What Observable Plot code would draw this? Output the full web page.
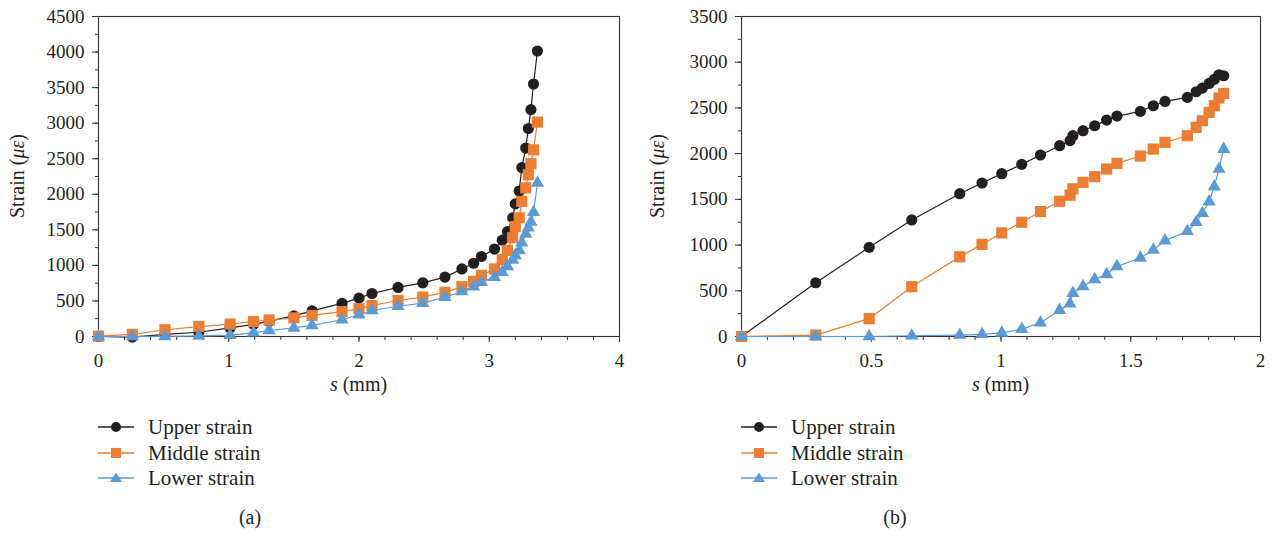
<!DOCTYPE html>
<html>
<head>
<meta charset="utf-8">
<script src="https://cdn.jsdelivr.net/npm/d3@7"></script>
<script src="https://cdn.jsdelivr.net/npm/@observablehq/plot@0.6"></script>
<style>
  body { margin: 0; background: #fff; }
  #root { position: relative; width: 1271px; height: 535px; font-family: "Liberation Serif", serif; color: #231f20; }
  .panel { position: absolute; top: 0; }
  .legend { position: absolute; font-size: 21px; }
  .legend .row { position: absolute; left: 0; white-space: nowrap; height: 26px; }
  .legend svg { position: absolute; left: 0; top: 0; }
  .legend span { position: absolute; left: 50px; top: 0; line-height: 26px; }
  .cap { position: absolute; font-size: 20px; transform: translateX(-50%); }
</style>
</head>
<body>
<div id="root"></div>
<script>
// ---------- Data ----------
const seriesNames = ["Upper strain", "Middle strain", "Lower strain"];
const seriesColors = ["#231f20", "#ED7D31", "#5B9BD5"];
const seriesSymbols = ["circle", "square", "triangle"];

// Panel (a)
const sA = [0, 0.26, 0.51, 0.77, 1.01, 1.19, 1.31, 1.5, 1.64, 1.87, 2.0, 2.1, 2.3, 2.49, 2.66, 2.79, 2.88, 2.94, 3.04, 3.1, 3.14, 3.18, 3.2, 3.23, 3.25, 3.28, 3.3, 3.32, 3.34, 3.37];
const upperA = [0, -8, 30, 60, 120, 170, 215, 290, 360, 465, 540, 605, 690, 755, 835, 950, 1030, 1125, 1230, 1355, 1475, 1670, 1865, 2045, 2375, 2650, 2925, 3190, 3550, 4015];
const middleA = [5, 30, 95, 140, 175, 210, 232, 262, 296, 350, 390, 436, 506, 555, 620, 700, 775, 860, 950, 1080, 1210, 1390, 1545, 1670, 1900, 2090, 2275, 2430, 2625, 3015];
const lowerA = [0, 0, 2, 9, 19, 52, 84, 122, 157, 236, 306, 366, 425, 470, 553, 632, 702, 765, 835, 905, 985, 1077, 1140, 1210, 1318, 1442, 1530, 1612, 1747, 2158];
const xTicksA = [0, 1, 2, 3, 4];
const yTicksA = [0, 500, 1000, 1500, 2000, 2500, 3000, 3500, 4000, 4500];

// Panel (b)
const sB = [0, 0.286, 0.492, 0.656, 0.841, 0.927, 1.003, 1.08, 1.152, 1.226, 1.266, 1.277, 1.316, 1.361, 1.407, 1.447, 1.537, 1.587, 1.632, 1.718, 1.752, 1.776, 1.802, 1.822, 1.84, 1.858];
const upperB = [0, 588, 975, 1275, 1562, 1678, 1781, 1883, 1985, 2087, 2142, 2196, 2251, 2305, 2367, 2411, 2462, 2524, 2571, 2615, 2677, 2717, 2768, 2812, 2863, 2852];
const middleB = [0, 15, 195, 545, 872, 1008, 1133, 1249, 1366, 1479, 1545, 1615, 1686, 1748, 1832, 1894, 1974, 2050, 2123, 2196, 2287, 2360, 2451, 2524, 2608, 2659];
const lowerB = [0, 0, 0, 8, 16, 24, 40, 80, 150, 288, 358, 474, 548, 625, 680, 766, 860, 947, 1049, 1151, 1249, 1348, 1475, 1639, 1832, 2050];
const xTicksB = [0, 0.5, 1, 1.5, 2];
const yTicksB = [0, 500, 1000, 1500, 2000, 2500, 3000, 3500];

// ---------- Build ----------
function toRows(s, values) {
  return values.flatMap((vals, k) => vals.map((v, i) => ({s: s[i], v, series: seriesNames[k]})));
}

function range(a, b, step) {
  const out = [];
  for (let i = 0; a + i * step <= b + 1e-9; i++) out.push(+(a + i * step).toFixed(6));
  return out;
}

function panel({s, values, xDomain, yDomain, xTicks, yTicks, xMinorStep, yMinorStep, width, ml, mr, tickFmt}) {
  const rows = toRows(s, values);
  const marks = [];
  marks.push(Plot.axisX({ticks: range(xDomain[0], xDomain[1], xMinorStep), tickSize: 4, tickFormat: () => "", label: null, stroke: "#333"}));
  marks.push(Plot.axisX({ticks: xTicks, tickSize: 6, tickPadding: 11, tickFormat: tickFmt, label: null, stroke: "#333", fill: "#231f20"}));
  marks.push(Plot.axisY({ticks: range(yDomain[0], yDomain[1], yMinorStep), tickSize: 3, tickFormat: () => "", label: null, stroke: "#333"}));
  marks.push(Plot.axisY({ticks: yTicks, tickSize: 6, tickPadding: 8, tickFormat: d => String(d), label: null, stroke: "#333", fill: "#231f20"}));
  marks.push(Plot.frame({stroke: "#333", strokeWidth: 1.1}));
  const radii = [5.6, 6.3, 4.9];
  seriesNames.forEach((name, k) => {
    const data = rows.filter(d => d.series === name);
    marks.push(Plot.line(data, {x: "s", y: "v", stroke: seriesColors[k], strokeWidth: 1.2}));
    marks.push(Plot.dot(data, {x: "s", y: "v", symbol: () => seriesSymbols[k], fill: seriesColors[k], stroke: "none", r: radii[k]}));
  });
  const svg = Plot.plot({
    width, height: 400,
    marginLeft: ml, marginRight: mr, marginTop: 16, marginBottom: 64,
    x: {domain: xDomain, label: null},
    y: {domain: yDomain, label: null},
    symbol: {type: "identity"},
    style: {fontFamily: "Liberation Serif, serif", fontSize: "19px", color: "#231f20", background: "transparent"},
    marks
  });
  const sel = d3.select(svg);
  const plotMid = (16 + 336) / 2;
  const yl = sel.append("text")
    .attr("transform", `translate(24,${plotMid}) rotate(-90)`)
    .attr("text-anchor", "middle")
    .attr("fill", "#231f20")
    .style("font-size", "20px");
  yl.append("tspan").text("Strain (");
  yl.append("tspan").attr("font-style", "italic").text("με");
  yl.append("tspan").text(")");
  const xl = sel.append("text")
    .attr("x", (ml + width - mr) / 2)
    .attr("y", 391)
    .attr("text-anchor", "middle")
    .attr("fill", "#231f20")
    .style("font-size", "20px");
  xl.append("tspan").attr("font-style", "italic").text("s");
  xl.append("tspan").text(" (mm)");
  return svg;
}

function legend(left) {
  const div = document.createElement("div");
  div.className = "legend";
  div.style.left = left + "px";
  div.style.top = "414px";
  seriesNames.forEach((name, k) => {
    const row = document.createElement("div");
    row.className = "row";
    row.style.top = (k * 25.5) + "px";
    const sym = seriesSymbols[k];
    let marker;
    if (sym === "circle") marker = `<circle cx="18" cy="13" r="5" fill="${seriesColors[k]}"/>`;
    else if (sym === "square") marker = `<rect x="13" y="8" width="10" height="10" fill="${seriesColors[k]}"/>`;
    else marker = `<path d="M18,7.5 L24,17 L12,17 Z" fill="${seriesColors[k]}"/>`;
    row.innerHTML = `<svg width="40" height="26"><line x1="0" x2="36" y1="13" y2="13" stroke="${seriesColors[k]}" stroke-width="1.4"/>${marker}</svg><span>${name}</span>`;
    div.appendChild(row);
  });
  return div;
}

const root = document.getElementById("root");

const pa = document.createElement("div");
pa.className = "panel"; pa.style.left = "0px";
pa.appendChild(panel({s: sA, values: [upperA, middleA, lowerA], xDomain: [0, 4], yDomain: [0, 4500], xTicks: xTicksA, yTicks: yTicksA, xMinorStep: 0.2, yMinorStep: 250, width: 640, ml: 98, mr: 21, tickFmt: d => String(d)}));
root.appendChild(pa);

const pb = document.createElement("div");
pb.className = "panel"; pb.style.left = "640px";
pb.appendChild(panel({s: sB, values: [upperB, middleB, lowerB], xDomain: [0, 2], yDomain: [0, 3500], xTicks: xTicksB, yTicks: yTicksB, xMinorStep: 0.1, yMinorStep: 250, width: 631, ml: 101, mr: 11, tickFmt: d => String(d)}));
root.appendChild(pb);

root.appendChild(legend(98));
root.appendChild(legend(741));

const ca = document.createElement("div"); ca.className = "cap"; ca.textContent = "(a)"; ca.style.left = "250px"; ca.style.top = "506px"; root.appendChild(ca);
const cb = document.createElement("div"); cb.className = "cap"; cb.textContent = "(b)"; cb.style.left = "895px"; cb.style.top = "506px"; root.appendChild(cb);
</script>
</body>
</html>
